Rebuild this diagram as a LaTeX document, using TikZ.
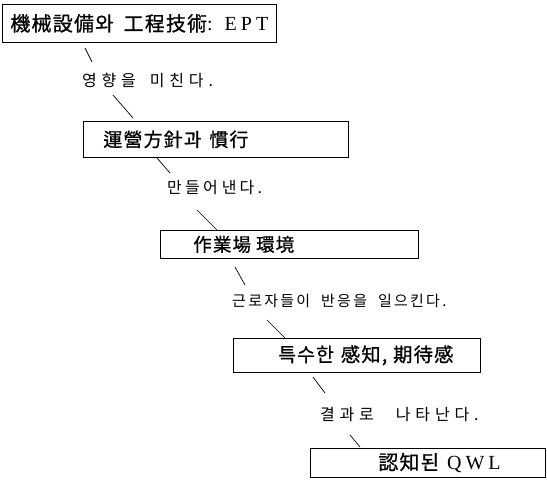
\documentclass[tikz,border=0pt]{standalone}
\usepackage{fontspec}
\setmainfont{Noto Sans CJK KR}
\newfontfamily\labfont[LetterSpace=20]{Noto Sans CJK KR}
\newfontfamily\boxfont[LetterSpace=6, FakeBold=0.8]{Noto Sans CJK KR}
\newfontfamily\latinserif[LetterSpace=20]{Liberation Serif}
\tikzset{
  boxnode/.style={draw, line width=0.7pt, anchor=north west, inner sep=0pt, minimum height=#1},
  labelnode/.style={anchor=west, inner sep=0pt},
  link/.style={line width=0.7pt}
}
\newcommand{\fsz}[1]{\fontsize{#1}{#1}\selectfont}
\newcommand{\gap}[1]{\hspace{#1pt}}
\begin{document}
\begin{tikzpicture}[x=1pt,y=-1pt]
\useasboundingbox (0,0) rectangle (547,493);
% boxes
\node[boxnode=38pt, minimum width=274pt, align=center] (b1) at (2,4) {\boxfont\fsz{20}機械設備와\gap{10}工程技術{\latinserif: EPT}};
\node[boxnode=36pt, minimum width=265pt, text width=265pt, align=left] (b2) at (83,121) {\hspace*{20pt}\boxfont\fsz{19}運營方針과\gap{8}慣行};
\node[boxnode=28pt, minimum width=258pt, text width=258pt, align=left] (b3) at (160,230) {\hspace*{33pt}\boxfont\fsz{18.5}作業場\gap{5}環境};
\node[boxnode=34pt, minimum width=247pt, text width=247pt, align=left] (b4) at (233,338) {\hspace*{45pt}\boxfont\fsz{19.3}특수한\gap{7}感知,\gap{6}期待感};
\node[boxnode=29pt, minimum width=235pt, text width=235pt, align=left] (b5) at (310,448) {\hspace*{68pt}\boxfont\fsz{20}認知된\gap{8}{\latinserif QWL}};
% labels
\node[labelnode] (t1) at (82,80) {\labfont\addfontfeature{LetterSpace=30}\fsz{16}영향을\gap{14}미친다.};
\node[labelnode] (t2) at (167,188) {\labfont\fsz{16}만들어\gap{4}낸다.};
\node[labelnode] (t3) at (232,301) {\labfont\addfontfeature{LetterSpace=15}\fsz{15}근로자들이\gap{11}반응을\gap{11}일으킨다.};
\node[labelnode] (t4) at (320,415) {\labfont\addfontfeature{LetterSpace=30}\fsz{16}결과로\gap{22}나타난다.};
% connector coordinates
\coordinate (a1) at (85,48);  \coordinate (c1) at (92,62);
\coordinate (a2) at (113,95); \coordinate (c2) at (133,118);
\coordinate (a3) at (157,158); \coordinate (c3) at (170,173);
\coordinate (a4) at (197,210); \coordinate (c4) at (217,230);
\coordinate (a5) at (235,267); \coordinate (c5) at (245,285);
\coordinate (a6) at (267,320); \coordinate (c6) at (285,338);
\coordinate (a7) at (313,377); \coordinate (c7) at (325,393);
\coordinate (a8) at (350,435); \coordinate (c8) at (360,447);
\foreach \i in {1,...,8} { \draw[link] (a\i) -- (c\i); }
\end{tikzpicture}
\end{document}
